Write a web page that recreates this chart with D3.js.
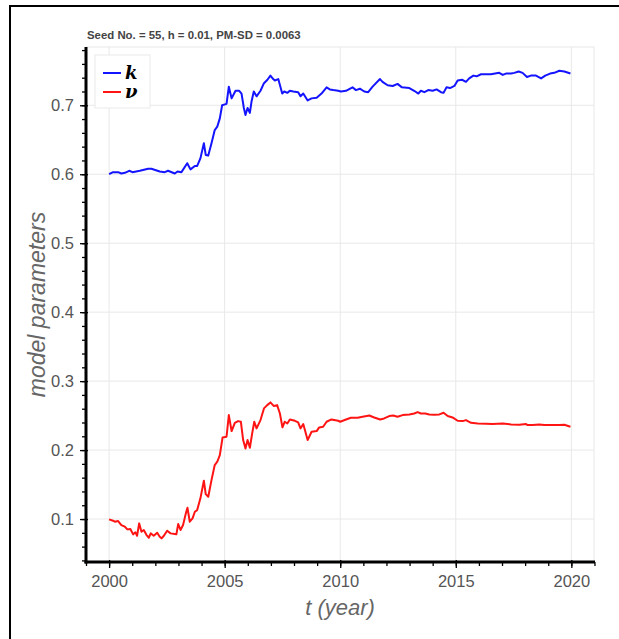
<!DOCTYPE html>
<html>
<head>
<meta charset="utf-8">
<script src="https://cdn.jsdelivr.net/npm/d3@7"></script>
<style>
  body { margin: 0; background: #fff; }
  svg { display: block; font-family: "Liberation Sans", Arial, sans-serif; }
</style>
</head>
<body>
<svg id="chart" width="619" height="639"></svg>
<script>
// values
var kYears = [2000.00, 2000.17, 2000.39, 2000.53, 2000.68, 2000.87, 2001.01, 2001.33, 2001.69, 2001.83,
  2002.19, 2002.41, 2002.55, 2002.84, 2002.96, 2003.13, 2003.38, 2003.52, 2003.71, 2003.81,
  2003.95, 2004.10, 2004.18, 2004.29, 2004.43, 2004.57, 2004.68, 2004.79, 2004.89, 2005.08,
  2005.18, 2005.30, 2005.47, 2005.63, 2005.73, 2005.83, 2005.90, 2005.99, 2006.09, 2006.16,
  2006.26, 2006.38, 2006.55, 2006.70, 2006.85, 2006.98, 2007.10, 2007.17, 2007.32, 2007.49,
  2007.58, 2007.71, 2007.82, 2007.97, 2008.18, 2008.28, 2008.40, 2008.59, 2008.76, 2008.98,
  2009.19, 2009.41, 2009.55, 2009.70, 2009.91, 2010.03, 2010.25, 2010.53, 2010.68, 2010.85,
  2011.04, 2011.21, 2011.40, 2011.72, 2011.83, 2012.05, 2012.27, 2012.48, 2012.67, 2012.99,
  2013.20, 2013.38, 2013.49, 2013.64, 2013.81, 2014.00, 2014.17, 2014.36, 2014.47, 2014.60,
  2014.75, 2014.94, 2015.08, 2015.27, 2015.44, 2015.58, 2015.76, 2015.90, 2016.09, 2016.31,
  2016.52, 2016.70, 2016.88, 2017.03, 2017.17, 2017.39, 2017.53, 2017.72, 2017.89, 2018.08,
  2018.25, 2018.47, 2018.69, 2018.87, 2019.08, 2019.26, 2019.48, 2019.70, 2019.96];
var kValues = [0.600, 0.603, 0.603, 0.601, 0.602, 0.605, 0.603, 0.605, 0.608, 0.608,
  0.604, 0.603, 0.605, 0.601, 0.604, 0.603, 0.616, 0.607, 0.612, 0.612,
  0.623, 0.645, 0.628, 0.627, 0.645, 0.664, 0.669, 0.681, 0.700, 0.702,
  0.727, 0.710, 0.721, 0.721, 0.717, 0.696, 0.686, 0.696, 0.689, 0.705,
  0.720, 0.713, 0.721, 0.732, 0.737, 0.743, 0.738, 0.736, 0.738, 0.717,
  0.720, 0.718, 0.721, 0.720, 0.719, 0.713, 0.717, 0.707, 0.710, 0.711,
  0.717, 0.726, 0.723, 0.722, 0.721, 0.720, 0.721, 0.726, 0.722, 0.724,
  0.720, 0.719, 0.727, 0.738, 0.734, 0.729, 0.728, 0.731, 0.726, 0.725,
  0.721, 0.717, 0.721, 0.719, 0.722, 0.721, 0.723, 0.719, 0.718, 0.726,
  0.725, 0.728, 0.736, 0.737, 0.734, 0.739, 0.743, 0.742, 0.745, 0.745,
  0.745, 0.746, 0.747, 0.744, 0.746, 0.746, 0.747, 0.749, 0.747, 0.741,
  0.743, 0.743, 0.739, 0.743, 0.746, 0.747, 0.750, 0.749, 0.746];

var nuYears = [2000.00, 2000.17, 2000.25, 2000.39, 2000.53, 2000.68, 2000.79, 2000.92, 2001.04, 2001.14,
  2001.21, 2001.30, 2001.40, 2001.50, 2001.62, 2001.72, 2001.80, 2001.93, 2002.08, 2002.19,
  2002.27, 2002.37, 2002.51, 2002.66, 2002.91, 2002.99, 2003.09, 2003.20, 2003.32, 2003.39,
  2003.49, 2003.61, 2003.71, 2003.81, 2003.95, 2004.10, 2004.18, 2004.29, 2004.43, 2004.57,
  2004.68, 2004.79, 2004.91, 2005.08, 2005.18, 2005.30, 2005.44, 2005.58, 2005.70, 2005.80,
  2005.90, 2005.99, 2006.09, 2006.19, 2006.28, 2006.38, 2006.55, 2006.70, 2006.84, 2006.98,
  2007.13, 2007.27, 2007.39, 2007.50, 2007.60, 2007.71, 2007.82, 2008.04, 2008.18, 2008.28,
  2008.40, 2008.59, 2008.76, 2008.98, 2009.09, 2009.26, 2009.41, 2009.62, 2009.91, 2010.00,
  2010.25, 2010.46, 2010.75, 2010.97, 2011.26, 2011.47, 2011.73, 2011.90, 2012.12, 2012.29,
  2012.48, 2012.70, 2012.99, 2013.20, 2013.35, 2013.49, 2013.68, 2013.85, 2014.07, 2014.29,
  2014.47, 2014.65, 2014.86, 2015.08, 2015.30, 2015.44, 2015.66, 2015.95, 2016.31, 2016.59,
  2017.03, 2017.39, 2017.75, 2018.04, 2018.11, 2018.33, 2018.61, 2018.83, 2019.12, 2019.48,
  2019.70, 2019.96];
var nuValues = [0.0995, 0.0976, 0.0961, 0.0971, 0.0913, 0.0889, 0.0850, 0.0855, 0.0778, 0.0807,
  0.0758, 0.0937, 0.0816, 0.0841, 0.0768, 0.0729, 0.0792, 0.0758, 0.0802, 0.0744,
  0.0720, 0.0758, 0.0831, 0.0792, 0.0778, 0.0928, 0.0841, 0.0913, 0.1082, 0.1164,
  0.0961, 0.1010, 0.1106, 0.1130, 0.1300, 0.1556, 0.1362, 0.1324, 0.1565, 0.1783,
  0.1831, 0.1928, 0.2184, 0.2193, 0.2507, 0.2275, 0.2396, 0.2420, 0.2411, 0.2145,
  0.2024, 0.2145, 0.2034, 0.2242, 0.2411, 0.2314, 0.2435, 0.2604, 0.2652, 0.2691,
  0.2638, 0.2652, 0.2531, 0.2329, 0.2411, 0.2386, 0.2444, 0.2425, 0.2401, 0.2314,
  0.2377, 0.2145, 0.2266, 0.2275, 0.2329, 0.2338, 0.2411, 0.2444, 0.2425, 0.2411,
  0.2444, 0.2469, 0.2469, 0.2483, 0.2502, 0.2473, 0.2444, 0.2459, 0.2493, 0.2502,
  0.2483, 0.2507, 0.2517, 0.2531, 0.2551, 0.2531, 0.2531, 0.2517, 0.2512, 0.2517,
  0.2541, 0.2493, 0.2473, 0.2425, 0.2420, 0.2435, 0.2396, 0.2386, 0.2382, 0.2377,
  0.2386, 0.2372, 0.2367, 0.2377, 0.2362, 0.2362, 0.2372, 0.2362, 0.2362, 0.2362,
  0.2367, 0.2338];

var xMajor = [2000, 2005, 2010, 2015, 2020];
var xMinor = d3.range(1999, 2022);
var yMajor = [0.1, 0.2, 0.3, 0.4, 0.5, 0.6, 0.7];
var yMinor = d3.range(0.04, 0.785, 0.02);

var titleText = "Seed No. = 55, h = 0.01, PM-SD = 0.0063";
var seriesNames = ["k", "\u03bd"];
var seriesColors = ["#1414ff", "#ff1414"];

var svg = d3.select("#chart");

// outer frame (only left and top visible)
svg.append("line").attr("x1", 10).attr("x2", 10).attr("y1", 6).attr("y2", 639)
  .attr("stroke", "#000").attr("stroke-width", 2);
svg.append("line").attr("x1", 9).attr("x2", 619).attr("y1", 6).attr("y2", 6)
  .attr("stroke", "#000").attr("stroke-width", 2);

var plotLeft = 86, plotRight = 594, plotTop = 47, plotBottom = 562;

var x = d3.scaleLinear().domain([1999.0, 2020.98]).range([plotLeft, plotRight]);
var y = d3.scaleLinear().domain([0.0377, 0.7845]).range([plotBottom, plotTop]);

// grid
var grid = svg.append("g");
grid.selectAll(".gx").data(xMajor).enter().append("line")
  .attr("x1", function(d){ return x(d); }).attr("x2", function(d){ return x(d); })
  .attr("y1", plotTop).attr("y2", plotBottom)
  .attr("stroke", "#e8e8e8").attr("stroke-width", 1);
grid.selectAll(".gy").data(yMajor).enter().append("line")
  .attr("x1", plotLeft).attr("x2", plotRight)
  .attr("y1", function(d){ return y(d); }).attr("y2", function(d){ return y(d); })
  .attr("stroke", "#e8e8e8").attr("stroke-width", 1);
svg.append("rect").attr("x", plotLeft).attr("y", plotTop)
  .attr("width", plotRight - plotLeft).attr("height", plotBottom - plotTop)
  .attr("fill", "none").attr("stroke", "#e8e8e8");

// title
svg.append("text").attr("x", 87).attr("y", 39)
  .attr("font-size", 11.4).attr("font-weight", "bold").attr("fill", "#444")
  .text(titleText);

// lines
var line = d3.line()
  .x(function(d){ return x(d[0]); })
  .y(function(d){ return y(d[1]); });

var series = [d3.zip(kYears, kValues), d3.zip(nuYears, nuValues)];
svg.selectAll(".series").data(series).enter().append("path")
  .attr("d", line)
  .attr("fill", "none")
  .attr("stroke", function(d, i){ return seriesColors[i]; })
  .attr("stroke-width", 2)
  .attr("stroke-linejoin", "round");

// axes
var xAxisMinor = svg.append("g").attr("transform", "translate(0," + plotBottom + ")")
  .call(d3.axisBottom(x).tickValues(xMinor).tickSize(4).tickFormat(""));
var xAxis = svg.append("g").attr("transform", "translate(0," + plotBottom + ")")
  .call(d3.axisBottom(x).tickValues(xMajor).tickSize(6).tickPadding(7).tickFormat(d3.format("d")));
var yAxisMinor = svg.append("g").attr("transform", "translate(" + plotLeft + ",0)")
  .call(d3.axisLeft(y).tickValues(yMinor).tickSize(4).tickFormat(""));
var yAxis = svg.append("g").attr("transform", "translate(" + plotLeft + ",0)")
  .call(d3.axisLeft(y).tickValues(yMajor).tickSize(6).tickPadding(6).tickFormat(d3.format(".1f")));

svg.selectAll(".domain").remove();
xAxis.selectAll(".tick line").attr("y1", -2);
yAxis.selectAll(".tick line").attr("x1", 2);
svg.selectAll(".tick line").attr("stroke", "#000").attr("stroke-width", 1.3);
svg.selectAll(".tick text")
  .attr("font-family", "'Liberation Sans', Arial, sans-serif")
  .attr("font-size", 16.5).attr("fill", "#555");

// axis lines
svg.append("line").attr("x1", plotLeft).attr("x2", plotLeft).attr("y1", plotTop).attr("y2", plotBottom + 1.5)
  .attr("stroke", "#000").attr("stroke-width", 3);
svg.append("line").attr("x1", plotLeft - 1.5).attr("x2", plotRight + 1).attr("y1", plotBottom).attr("y2", plotBottom)
  .attr("stroke", "#000").attr("stroke-width", 3);

// axis titles
svg.append("text").attr("x", (plotLeft + plotRight) / 2).attr("y", 615)
  .attr("text-anchor", "middle").attr("font-size", 22).attr("font-style", "italic")
  .attr("fill", "#666").text("t (year)");
svg.append("text")
  .attr("transform", "translate(45," + ((plotTop + plotBottom) / 2) + ") rotate(-90)")
  .attr("text-anchor", "middle").attr("font-size", 23).attr("font-style", "italic")
  .attr("fill", "#666").text("model parameters");

// legend
var legend = svg.append("g");
legend.append("rect").attr("x", 95).attr("y", 55).attr("width", 55).attr("height", 53)
  .attr("fill", "#fff").attr("stroke", "#eaeaea");
var items = legend.selectAll(".item").data(seriesNames).enter().append("g")
  .attr("transform", function(d, i){ return "translate(0," + (73 + i * 19) + ")"; });
items.append("line").attr("x1", 103).attr("x2", 121).attr("y1", 0).attr("y2", 0)
  .attr("stroke", function(d, i){ return seriesColors[i]; }).attr("stroke-width", 2);
items.append("text").attr("x", 125).attr("y", 6)
  .attr("font-family", "'DejaVu Serif', 'Liberation Serif', serif")
  .attr("font-weight", "bold").attr("font-style", "italic").attr("font-size", 18)
  .attr("fill", "#000").text(function(d){ return d; });
</script>
</body>
</html>
